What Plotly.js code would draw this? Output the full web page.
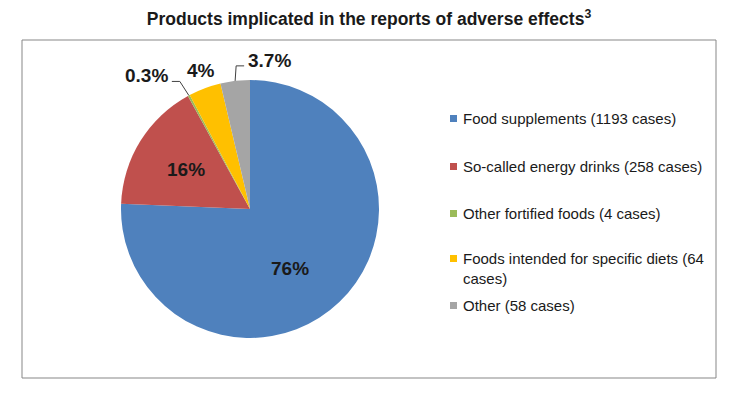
<!DOCTYPE html>
<html>
<head>
<meta charset="utf-8">
<script src="https://cdn.plot.ly/plotly-3.0.1.min.js"></script>
<style>html,body{margin:0;padding:0;background:#fff;}#chart{width:738px;height:395px;}</style>
</head>
<body>
<div id="chart"></div>
<script>
// ---- data ----
const categories = ['Food supplements', 'So-called energy drinks', 'Other fortified foods', 'Foods intended for specific diets', 'Other'];
const cases = [1193, 258, 4, 64, 58];
const pctLabels = ['76%', '16%', '0.3%', '4%', '3.7%'];
const colors = ['#4F81BD', '#C0504D', '#9BBB59', '#FFC000', '#A5A5A5'];
const titleText = 'Products implicated in the reports of adverse effects';

// ---- layout geometry (pixels) ----
const W = 738, H = 395;
const cx = 250, cy = 209, R = 129;
const FONT = 'Liberation Sans, Arial, sans-serif';
const px = x => x / W;
const py = y => 1 - y / H;

// label placement style per slice: inside (fraction of radius + nudge) or outside with leader
const labelStyle = [
  {mode: 'in', f: 0.57, dx: -11, dy: 6},
  {mode: 'in', f: 0.58, dx: 0, dy: 0},
  {mode: 'out', elbow: [-9, -14], end: [-8, 0], text: [-2, -6], anchor: 'right'},
  {mode: 'out', elbow: null, text: [-4, -18], anchor: 'center'},
  {mode: 'out', elbow: [1, -15], end: [8, 0], text: [2, -5], anchor: 'left'}
];

const total = cases.reduce((a, b) => a + b, 0);
const annotations = [];
const shapes = [];

// chart frame
shapes.push({type: 'rect', xref: 'paper', yref: 'paper', x0: px(22), x1: px(716), y0: py(40), y1: py(378),
  line: {color: '#878787', width: 1}, fillcolor: 'rgba(0,0,0,0)', layer: 'below'});

let cum = 0;
cases.forEach((v, i) => {
  const mid = (cum + v / 2) / total * 2 * Math.PI; // clockwise from 12 o'clock
  cum += v;
  const s = labelStyle[i];
  const dirx = Math.sin(mid), diry = -Math.cos(mid);
  if (s.mode === 'in') {
    const x = cx + dirx * R * s.f + s.dx, y = cy + diry * R * s.f + s.dy;
    annotations.push({x: px(x), y: py(y), xref: 'paper', yref: 'paper', text: '<b>' + pctLabels[i] + '</b>',
      showarrow: false, xanchor: 'center', yanchor: 'middle', font: {family: FONT, size: 19, color: '#1a1a1a'}});
  } else {
    const ax = cx + dirx * R, ay = cy + diry * R;
    let tx = ax, ty = ay;
    if (s.elbow) {
      const ex = ax + s.elbow[0], ey = ay + s.elbow[1];
      const fx = ex + s.end[0], fy = ey + s.end[1];
      shapes.push({type: 'path', xref: 'paper', yref: 'paper',
        path: `M ${px(ax)} ${py(ay)} L ${px(ex)} ${py(ey)} L ${px(fx)} ${py(fy)}`,
        line: {color: '#404040', width: 1}});
      tx = fx; ty = fy;
    }
    annotations.push({x: px(tx + s.text[0]), y: py(ty + s.text[1]), xref: 'paper', yref: 'paper',
      text: '<b>' + pctLabels[i] + '</b>', showarrow: false, xanchor: s.anchor, yanchor: 'middle',
      font: {family: FONT, size: 19, color: '#1a1a1a'}});
  }
});

// custom legend
const legX = 450, legTextX = 461;
const legRowY = [118, 166, 213, 258, 305];
const legendTexts = categories.map((c, i) => {
  const t = `${c} (${cases[i]} cases)`;
  if (t.length > 40) { const k = t.lastIndexOf(' '); return t.slice(0, k) + '<br>' + t.slice(k + 1); }
  return t;
});
legendTexts.forEach((t, i) => {
  const yc = legRowY[i];
  shapes.push({type: 'rect', xref: 'paper', yref: 'paper', x0: px(legX), x1: px(legX + 7), y0: py(yc - 3), y1: py(yc + 4),
    fillcolor: colors[i], line: {width: 0}});
  annotations.push({x: px(legTextX), y: py(yc - 10), xref: 'paper', yref: 'paper', text: t, showarrow: false,
    xanchor: 'left', yanchor: 'top', align: 'left', font: {family: FONT, size: 15, color: '#1a1a1a'}});
});

const trace = {
  type: 'pie', labels: categories, values: cases, sort: false, direction: 'clockwise', rotation: 0,
  marker: {colors: colors, line: {color: '#ffffff', width: 0}},
  textinfo: 'none', hoverinfo: 'label+value+percent', showlegend: false,
  domain: {x: [px(cx - R), px(cx + R)], y: [py(cy + R), py(cy - R)]}
};

const layout = {
  width: W, height: H, margin: {l: 0, r: 0, t: 0, b: 0},
  paper_bgcolor: '#ffffff', plot_bgcolor: '#ffffff', showlegend: false,
  title: {text: '<b>' + titleText + '<sup>3</sup></b>', x: 0.5, xanchor: 'center', y: py(19), yanchor: 'middle',
    font: {family: FONT, size: 17.5, color: '#1a1a1a'}},
  shapes: shapes, annotations: annotations
};

Plotly.newPlot('chart', [trace], layout, {displayModeBar: false, staticPlot: true});
</script>
</body>
</html>
